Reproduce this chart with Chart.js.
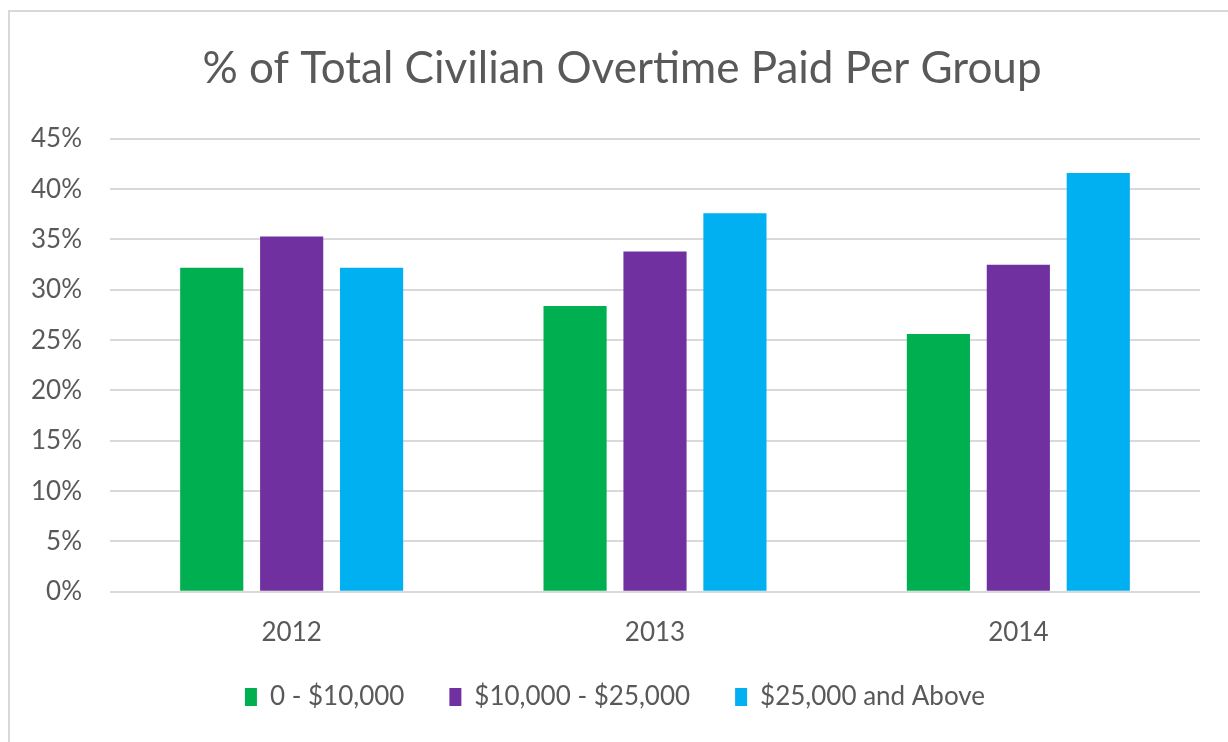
<!DOCTYPE html>
<html>
<head>
<meta charset="utf-8">
<script src="https://cdn.jsdelivr.net/npm/chart.js@4"></script>
<style>
  html, body { margin: 0; padding: 0; background: #fff; }
  #frame {
    position: absolute; left: 8px; top: 10px; width: 1240px; height: 760px;
    border: 2px solid #d9d9d9; box-sizing: border-box;
  }
  #wrap { position: absolute; left: 0; top: 0; width: 1228px; height: 742px; }
</style>
</head>
<body>
<div id="frame"></div>
<div id="wrap"><canvas id="chart"></canvas></div>
<script>
  // ---------- Data ----------
  const years = ["2012", "2013", "2014"];
  const seriesNames = ["0 - $10,000", "$10,000 - $25,000", "$25,000 and Above"];
  const lowGroup = [32.2, 28.4, 25.6];
  const midGroup = [35.3, 33.8, 32.5];
  const highGroup = [32.2, 37.6, 41.6];
  const colors = ["#00B050", "#7030A0", "#00B0F0"];

  const textColor = "#595959";
  const fontFamily = "Lato, 'Open Sans', sans-serif";

  const data = {
    labels: years,
    datasets: [lowGroup, midGroup, highGroup].map((vals, i) => ({
      label: seriesNames[i],
      data: vals,
      backgroundColor: colors[i],
      borderWidth: 0,
      categoryPercentage: 0.66,
      barPercentage: 0.79
    }))
  };

  // legend padding is wide (for the gap between items), so pull the legend up a bit;
  // title sits a touch right of centre in the original
  const nudge = {
    id: "nudge",
    afterLayout(chart) {
      const lg = chart.legend;
      if (lg) { lg.top -= 34; lg.bottom -= 34; }
      const tb = chart.titleBlock;
      if (tb) { tb.left += 7; tb.right += 7; }
    }
  };

  new Chart(document.getElementById("chart"), {
    type: "bar",
    data,
    plugins: [nudge],
    options: {
      responsive: true,
      maintainAspectRatio: false,
      animation: false,
      layout: { padding: { left: 30, right: 28, top: 10, bottom: -12 } },
      plugins: {
        title: {
          display: true,
          text: "% of Total Civilian Overtime Paid Per Group",
          color: textColor,
          font: { family: fontFamily, size: 44, weight: "normal" },
          padding: { top: 32, bottom: 44 }
        },
        legend: {
          position: "bottom",
          labels: {
            color: textColor,
            font: { family: fontFamily, size: 26 },
            boxWidth: 12,
            boxHeight: 18,
            padding: 45
          }
        },
        tooltip: { enabled: false }
      },
      scales: {
        x: {
          grid: { display: false, drawTicks: false },
          border: { display: false },
          ticks: { color: textColor, font: { family: fontFamily, size: 26 }, padding: 25 }
        },
        y: {
          min: 0,
          max: 45,
          afterFit: (s) => { s.width = 80; },
          grid: { color: "#d9d9d9", lineWidth: 2, drawTicks: false },
          border: { display: false },
          ticks: {
            stepSize: 5,
            padding: 28,
            color: textColor,
            font: { family: fontFamily, size: 26 },
            callback: (v) => v + "%"
          }
        }
      }
    }
  });
</script>
</body>
</html>
